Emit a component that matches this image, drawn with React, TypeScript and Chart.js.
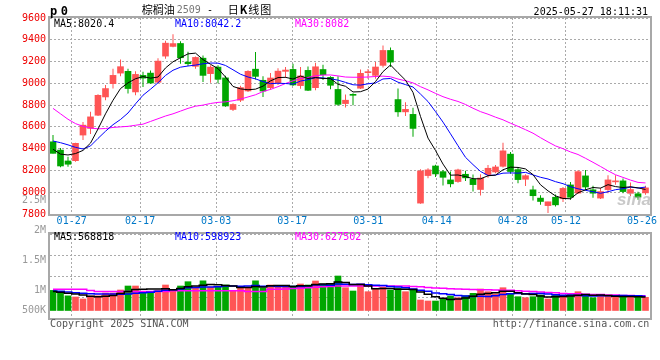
import React, { useEffect, useRef } from 'react';
import { Chart, registerables } from 'chart.js';

Chart.register(...registerables);

// ---------- data ----------
const tradeDates = [
  '01-22','01-23','01-24','01-27','02-05','02-06','02-07','02-10','02-11','02-12',
  '02-13','02-14','02-17','02-18','02-19','02-20','02-21','02-24','02-25','02-26',
  '02-27','02-28','03-03','03-04','03-05','03-06','03-07','03-10','03-11','03-12',
  '03-13','03-14','03-17','03-18','03-19','03-20','03-21','03-24','03-25','03-26',
  '03-27','03-28','03-31','04-01','04-02','04-03','04-07','04-08','04-09','04-10',
  '04-11','04-14','04-15','04-16','04-17','04-18','04-21','04-22','04-23','04-24',
  '04-25','04-28','04-29','04-30','05-06','05-07','05-08','05-09','05-12','05-13',
  '05-14','05-15','05-16','05-19','05-20','05-21','05-22','05-23','05-26','05-27',
];
const tickDates = ['01-27','02-17','03-03','03-17','03-31','04-14','04-28','05-12','05-26'];

const open = [
  8463,8387,8287,8290,8525,8586,8707,8875,8997,9094,
  9110,8921,9073,9094,9010,9250,9339,9366,9195,9156,
  9231,9089,9149,9050,8760,8845,8930,9130,9028,8960,
  9005,9110,9128,8979,9119,8960,9127,9055,8944,8814,
  8895,8955,9098,9073,9165,9302,8851,8738,8715,7900,
  8153,8241,8189,8113,8098,8165,8120,8025,8162,8186,
  8238,8350,8208,8119,8022,7946,7877,7954,7940,8067,
  7992,8150,8022,7946,8024,8095,8104,7990,7986,7994,
];
const high = [
  8525,8405,8326,8454,8646,8740,8900,8985,9135,9220,
  9134,9110,9107,9119,9230,9390,9450,9387,9290,9247,
  9256,9165,9165,9070,8818,8978,9120,9287,9064,9095,
  9138,9150,9180,9150,9155,9188,9171,9064,9065,8898,
  8909,9126,9131,9195,9348,9330,8952,8826,8775,8212,
  8220,8252,8205,8190,8215,8197,8162,8166,8250,8250,
  8455,8369,8228,8166,8060,7972,7913,7979,8049,8094,
  8202,8205,8060,8040,8156,8155,8125,8090,8005,8060,
];
const low = [
  8355,8229,8235,8280,8479,8534,8700,8845,8952,9064,
  8906,8890,8966,8997,9003,9225,9332,9180,9160,9134,
  9012,9005,9000,8784,8745,8829,8921,9035,8875,8940,
  8985,9050,8975,8950,8930,8936,9030,8945,8793,8777,
  8799,8947,9043,9043,9145,9150,8692,8700,8509,7894,
  8129,8140,8061,8046,8086,8102,8007,7970,8133,8174,
  8227,8170,8083,8058,7924,7885,7810,7869,7910,7930,
  7983,8018,7949,7938,7991,8068,7991,7965,7930,7976,
];
const close = [
  8357,8241,8257,8449,8616,8692,8890,8952,9073,9153,
  8952,9082,9048,9003,9204,9369,9365,9235,9180,9238,
  9073,9149,9037,8792,8806,8961,9110,9064,8929,9049,
  9112,9122,8985,9068,8936,9152,9080,8982,8807,8845,
  8890,9092,9103,9150,9302,9195,8738,8761,8586,8196,
  8205,8168,8137,8077,8205,8132,8070,8130,8220,8232,
  8380,8190,8116,8152,7968,7915,7912,7884,8035,7954,
  8189,8048,7991,8006,8113,8100,8006,8025,7955,8040,
];
const volume = [
  840000,730000,612000,565000,481000,606000,612000,730000,730000,857000,
  1024000,1024000,800000,800000,836000,1066000,857000,1024000,1204000,975000,
  1240000,975000,995000,1066000,820000,940000,976000,1240000,940000,1066000,
  980000,980000,1024000,1108000,1066000,1233000,1108000,1095000,1442000,953000,
  815000,1108000,786000,899000,970000,857000,928000,786000,857000,439000,
  397000,397000,481000,606000,535000,619000,719000,899000,786000,690000,
  953000,719000,577000,535000,577000,648000,481000,648000,577000,690000,
  786000,619000,535000,606000,606000,606000,552000,577000,552000,552000,
];

// moving-average values at the start of the window (earlier days are not shown)
const ma5Head = [8395, 8350, 8342, 8355];
const ma10Head = [8470, 8455, 8435, 8412, 8397, 8425, 8494, 8560, 8620];
const ma30Head = [
  8770, 8720, 8670, 8630, 8605, 8590, 8582, 8585, 8595, 8600,
  8605, 8615, 8625, 8650, 8675, 8700, 8720, 8745, 8770, 8790,
  8800, 8815, 8825, 8830, 8840, 8855, 8875, 8895, 8925,
];
const volMa5Head = [790000, 760000, 720000, 690000];
const volMa10Head = [820000, 800000, 770000, 740000, 720000, 700000, 690000, 685000, 690000];
const volMa30Head = [
  886000, 886000, 886000, 886000, 886000, 840000, 790000, 790000, 790000, 790000,
  790000, 790000, 790000, 790000, 790000, 790000, 828000, 828000, 828000, 828000,
  828000, 828000, 828000, 828000, 828000, 828000, 790000, 790000, 790000,
];

const priceMin = 7800;
const priceMax = 9600;
const priceStep = 200;
const volTickLabels = ['2.5M', '2M', '1.5M', '1M', '500K'];

const legendPrice = ['MA5:8020.4', 'MA10:8042.2', 'MA30:8082'];
const legendVol = ['MA5:568818', 'MA10:598923', 'MA30:627502'];
const titleName = '棕榈油';
const titleCode = '2509';
const titleKind = '日K线图';
const timeStamp = '2025-05-27 18:11:31';

// ---------- style ----------
const RED = '#ff5555';
const GREEN = '#00a600';
const GRID = '#aaaaaa';
const MONO = '"DejaVu Sans Mono", monospace';
const CJK = '"Noto Sans CJK SC", sans-serif';
const MA_COLORS = ['#000000', '#0000ff', '#ff00ff'];

function movingAverage(values: number[], n: number, head: number[]) {
  return values.map((_, i) => {
    if (i < n - 1) return head[i];
    let s = 0;
    for (let k = i - n + 1; k <= i; k++) s += values[k];
    return s / n;
  });
}

const framePlugin = {
  id: 'frame',
  afterDraw(chart: any) {
    const { ctx, chartArea: a } = chart;
    ctx.save();
    ctx.strokeStyle = '#a8a8a8';
    ctx.lineWidth = 2;
    ctx.strokeRect(Math.round(a.left) - 1, Math.round(a.top) - 1, Math.round(a.right - a.left) + 2, Math.round(a.bottom - a.top) + 2);
    ctx.restore();
  },
};

const watermarkPlugin = {
  id: 'watermark',
  afterDatasetsDraw(chart: any) {
    const { ctx, chartArea: a } = chart;
    ctx.save();
    ctx.font = 'italic bold 17px "Liberation Sans", sans-serif';
    ctx.fillStyle = 'rgba(165,165,165,0.6)';
    ctx.textAlign = 'right';
    ctx.textBaseline = 'alphabetic';
    ctx.fillText('sina', a.right + 1, a.bottom - 9);
    ctx.restore();
  },
};

const volLabelPlugin = {
  id: 'volLabels',
  afterDraw(chart: any) {
    const { ctx, chartArea: a } = chart;
    ctx.save();
    ctx.font = `10px ${MONO}`;
    ctx.fillStyle = '#999999';
    ctx.textAlign = 'right';
    ctx.textBaseline = 'middle';
    volTickLabels.forEach((t, k) => {
      const y = Math.min(a.top - 33.3 + 30 * k, a.bottom - 7.5);
      ctx.fillText(t, 46, y);
    });
    ctx.restore();
  },
};

function Txt(props: any) {
  const { x, right, y, color, font, lh, children, extra } = props;
  const style: any = {
    position: 'absolute',
    top: y,
    whiteSpace: 'pre',
    color: color || '#000',
    font: font || `10px ${MONO}`,
    lineHeight: lh || '12px',
    ...(extra || {}),
  };
  if (right !== undefined) style.right = right; else style.left = x;
  return <div style={style}>{children}</div>;
}

export default function App() {
  const mainRef = useRef<HTMLCanvasElement>(null);
  const volRef = useRef<HTMLCanvasElement>(null);

  useEffect(() => {
    document.body.style.margin = '0';
    Chart.defaults.font.family = MONO;
    Chart.defaults.font.size = 10;

    const idx = close.map((_, i) => i);
    const xAt = (i: number) => i + 0.5;
    const colors = idx.map((i) => (close[i] >= open[i] ? RED : GREEN));
    const tickIndex = tickDates.map((d) => tradeDates.indexOf(d));

    const ma = [
      movingAverage(close, 5, ma5Head),
      movingAverage(close, 10, ma10Head),
      movingAverage(close, 30, ma30Head),
    ];
    const vma = [
      movingAverage(volume, 5, volMa5Head),
      movingAverage(volume, 10, volMa10Head),
      movingAverage(volume, 30, volMa30Head),
    ];

    const gridX = (hideLabels: boolean) => ({
      type: 'linear',
      position: 'bottom',
      min: 0.15,
      max: 79.05,
      offset: false,
      afterBuildTicks: (s: any) => { s.ticks = tickIndex.map((v) => ({ value: v })); },
      afterFit: (s: any) => { s.height = hideLabels ? 0 : 16; },
      ticks: {
        display: !hideLabels,
        autoSkip: false,
        maxRotation: 0,
        minRotation: 0,
        padding: 1,
        color: '#0078c8',
        font: { family: MONO, size: 10 },
        callback: (v: any) => tradeDates[v],
      },
      grid: {
        offset: false,
        drawTicks: false,
        color: (c: any) => (c.index === tickIndex.length - 1 ? 'rgba(0,0,0,0)' : GRID),
      },
      border: { display: false, dash: [2, 2] },
    });
    const barX = { type: 'linear', display: false, min: 0.1, max: 80.1, offset: false, grid: { offset: false } };

    const main = new Chart(mainRef.current as HTMLCanvasElement, {
      type: 'bar',
      data: {
        datasets: [
          ...ma.map((arr, k) => ({
            type: 'line',
            label: ['MA5', 'MA10', 'MA30'][k],
            data: arr.map((v, i) => ({ x: xAt(i), y: v })),
            borderColor: MA_COLORS[k],
            borderWidth: 1,
            pointRadius: 0,
            tension: 0,
            order: 0,
            xAxisID: 'x',
            yAxisID: 'y',
          })),
          {
            type: 'bar',
            label: 'body',
            data: idx.map((i) => ({ x: xAt(i), y: [open[i], close[i]] })),
            backgroundColor: colors,
            barThickness: 6,
            minBarLength: 1,
            grouped: false,
            order: 1,
            xAxisID: 'x',
            yAxisID: 'y',
          },
          {
            type: 'bar',
            label: 'wick',
            data: idx.map((i) => ({ x: xAt(i), y: [low[i], high[i]] })),
            backgroundColor: colors,
            barThickness: 1,
            inflateAmount: 0,
            grouped: false,
            order: 2,
            xAxisID: 'x',
            yAxisID: 'y',
          },
        ] as any,
      },
      options: {
        responsive: false,
        devicePixelRatio: 1,
        animation: false,
        events: [],
        layout: { padding: { left: 0, top: 18, right: 10, bottom: 130 } },
        plugins: { legend: { display: false }, tooltip: { enabled: false }, title: { display: false } },
        scales: {
          x: barX,
          xg: gridX(false),
          y: {
            type: 'linear',
            position: 'left',
            min: priceMin,
            max: priceMax,
            afterFit: (s: any) => { s.width = 50; },
            ticks: {
              stepSize: priceStep,
              padding: 4,
              color: '#ee0000',
              font: { family: MONO, size: 10 },
              callback: (v: any) => String(v),
            },
            grid: { drawTicks: false, color: GRID },
            border: { display: false, dash: [2, 2] },
          },
        } as any,
      },
      plugins: [framePlugin, watermarkPlugin],
    } as any);

    const volAxisMin = -313500;
    const volAxisMax = 3197700;
    const vol = new Chart(volRef.current as HTMLCanvasElement, {
      type: 'bar',
      data: {
        datasets: [
          ...vma.map((arr, k) => ({
            type: 'line',
            label: ['MA5', 'MA10', 'MA30'][k],
            data: arr.map((v, i) => ({ x: xAt(i), y: v })),
            borderColor: MA_COLORS[k],
            borderWidth: 1.5,
            pointRadius: 0,
            stepped: 'middle',
            order: 0,
            xAxisID: 'x',
            yAxisID: 'y',
          })),
          {
            type: 'bar',
            label: 'volume',
            data: idx.map((i) => ({ x: xAt(i), y: volume[i] })),
            backgroundColor: colors,
            barThickness: 6,
            grouped: false,
            order: 1,
            xAxisID: 'x',
            yAxisID: 'y',
          },
        ] as any,
      },
      options: {
        responsive: false,
        devicePixelRatio: 1,
        animation: false,
        events: [],
        layout: { padding: { left: 50, top: 234, right: 10, bottom: 42 } },
        plugins: { legend: { display: false }, tooltip: { enabled: false }, title: { display: false } },
        scales: {
          x: barX,
          xg: gridX(true),
          y: {
            type: 'linear',
            position: 'left',
            min: volAxisMin,
            max: volAxisMax,
            afterFit: (s: any) => { s.width = 0; },
            ticks: { display: false, count: 5 },
            grid: { drawTicks: false, color: GRID },
            border: { display: false, dash: [2, 2] },
          },
        } as any,
      },
      plugins: [framePlugin, volLabelPlugin],
    } as any);

    return () => {
      main.destroy();
      vol.destroy();
    };
  }, []);

  return (
    <div style={{ position: 'fixed', left: 0, top: 0, width: 660, height: 360, background: '#fff', overflow: 'hidden' }}>
      <canvas ref={mainRef} width={660} height={360} style={{ position: 'absolute', left: 0, top: 0 }} />
      <canvas ref={volRef} width={660} height={360} style={{ position: 'absolute', left: 0, top: 0 }} />

      <Txt x={50} y={3.5} font={`bold 12px ${MONO}`} lh="14px" extra={{ letterSpacing: '-1.8px' }}>p 0</Txt>
      <Txt x={141.7} y={3.6} font={`11px ${CJK}`} lh="11px">{titleName}</Txt>
      <Txt x={176.7} y={3.7} color="#777">{titleCode}</Txt>
      <Txt x={201} y={3.7}>{' - '}</Txt>
      <Txt x={227.7} y={3.6} font={`11px ${CJK}`} lh="11px" extra={{ letterSpacing: '1px' }}>
        {titleKind.slice(0, 1)}<b>{titleKind.slice(1, 2)}</b>{titleKind.slice(2)}
      </Txt>
      <Txt right={12} y={5.5}>{timeStamp}</Txt>

      <Txt x={54} y={18.2} color={MA_COLORS[0]}>{legendPrice[0]}</Txt>
      <Txt x={175} y={18.2} color={MA_COLORS[1]}>{legendPrice[1]}</Txt>
      <Txt x={295} y={18.2} color={MA_COLORS[2]}>{legendPrice[2]}</Txt>

      <Txt x={54} y={230.7} color={MA_COLORS[0]}>{legendVol[0]}</Txt>
      <Txt x={175} y={230.7} color={MA_COLORS[1]}>{legendVol[1]}</Txt>
      <Txt x={295} y={230.7} color={MA_COLORS[2]}>{legendVol[2]}</Txt>

      <Txt x={50} y={317.7} color="#555">Copyright 2025 SINA.COM</Txt>
      <Txt right={10.7} y={317.7} color="#555">http://finance.sina.com.cn</Txt>
    </div>
  );
}
